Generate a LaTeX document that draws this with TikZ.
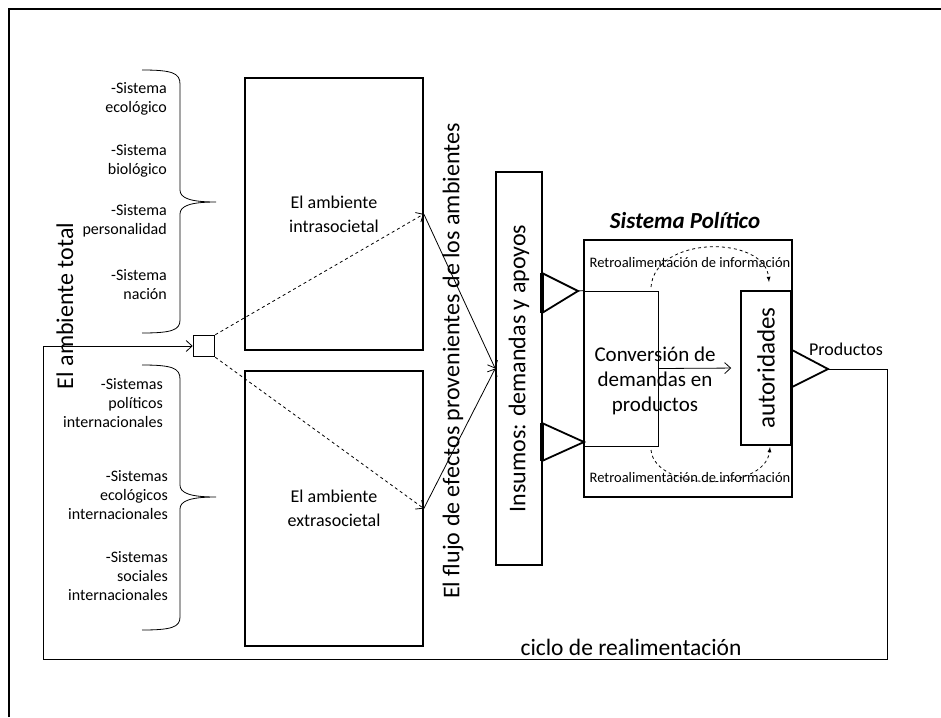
\documentclass[tikz,border=0pt]{standalone}
\usepackage{fontspec}
\setmainfont{Carlito}
\usetikzlibrary{positioning, arrows, arrows.meta, calc}

\begin{document}
\begin{tikzpicture}[x=1pt, y=-1pt,
	>={Straight Barb[length=6pt, width=11pt]},
	caja/.style={draw, line width=1.6pt, inner sep=0pt},
	fina/.style={draw, line width=0.8pt, inner sep=0pt},
	lista/.style={font=\fontsize{16}{19}\selectfont, align=right, anchor=east, inner sep=0pt},
	grande/.style={font=\fontsize{24}{25}\selectfont, align=center, inner sep=0pt},
	punta/.style={line width=1.8pt, line join=miter},
	linea/.style={line width=0.8pt}]
	\useasboundingbox (0,0) rectangle (941,717);
	\draw[line width=2pt] (9,717) -- (9,9) -- (941,9);

	\node[lista] (eco) at (167,99) {-Sistema\\ecológico};
	\node[lista] (bio) at (167,161) {-Sistema\\biológico};
	\node[lista] (per) at (167,221) {-Sistema\\personalidad};
	\node[lista] (nac) at (167,285) {-Sistema\\nación};
	\node[lista] (pol) at (163,403) {-Sistemas\\políticos\\internacionales};
	\node[lista] (ecoi) at (168,495) {-Sistemas\\ecológicos\\internacionales};
	\node[lista] (soc) at (168,576) {-Sistemas\\sociales\\internacionales};

	\draw[linea] (142,70) .. controls (172,70) and (180,73) .. (180,84) -- (180,190)
		.. controls (180,198) and (190,202) .. (216,202)
		.. controls (190,202) and (180,206) .. (180,214) -- (180,320)
		.. controls (180,330) and (172,333) .. (142,333);
	\draw[linea] (142,365) .. controls (172,365) and (180,368) .. (180,379) -- (180,485)
		.. controls (180,493) and (190,497) .. (216,497)
		.. controls (190,497) and (180,501) .. (180,509) -- (180,617)
		.. controls (180,627) and (172,630) .. (142,630);

	\node[grande, rotate=90] (total) at (65,306) {El ambiente total};
	\node[draw, line width=1.6pt, minimum size=21, inner sep=0pt] (cuadro) at (204,346) {};

	\node[caja, minimum width=178, minimum height=272, align=center,
		font=\fontsize{18}{24}\selectfont] (intra) at (334,214) {El ambiente\\intrasocietal};
	\node[caja, minimum width=178, minimum height=275, align=center,
		font=\fontsize{18}{24}\selectfont] (extra) at (334,508.5) {El ambiente\\extrasocietal};

	\node[grande, rotate=90] (flujo) at (453,361) {El flujo de efectos provenientes de los ambientes};
	\node[caja, minimum width=46, minimum height=393] (insumos) at (519,368.5) {};
	\node[grande, rotate=90] at (insumos) {Insumos: demandas y apoyos};

	\draw[linea, dashed, ->] (cuadro.north east) -- (intra.east);
	\draw[linea, dashed, ->] (cuadro.south east) -- (extra.east);
	\draw[linea, ->] (intra.east) -- (insumos.west);
	\draw[linea, ->] (extra.east) -- (insumos.west);

	\coordinate (ent1) at (578,291);
	\coordinate (ent2) at (584,442);
	\draw[punta] (542,273) -- (ent1) -- (542,313);
	\draw[line width=3.2pt] (542,273) -- (542,313);
	\draw[punta] (542,423) -- (ent2) -- (542,461);
	\draw[line width=3.2pt] (542,423) -- (542,461);

	\node[caja, minimum width=208, minimum height=257] (sispol) at (688,368.5) {};
	\node[font=\fontsize{23}{25}\selectfont\bfseries\itshape] (titulo) at (685,221) {Sistema Político};
	\node[fina, minimum width=74, minimum height=155] (conversion) at (621,368.5) {};
	\draw[linea] (ent1) -- (conversion.north west);
	\node[grande, font=\fontsize{21}{25}\selectfont] (convtxt) at (655,381) {Conversión de\\demandas en\\productos};
	\node[caja, minimum width=50, minimum height=154] (autoridades) at (766,368) {};
	\node[grande, rotate=90, font=\fontsize{25}{26}\selectfont] at (autoridades) {autoridades};
	\draw[linea, ->, shorten >=9pt] (conversion.east) -- (autoridades.west);

	\node[font=\fontsize{14.5}{16}\selectfont] (retro1) at (690,263) {Retroalimentación de información};
	\node[font=\fontsize{14.5}{16}\selectfont] (retro2) at (690,478) {Retroalimentación de información};
	\draw[linea, dashed, -latex] (651,287) .. controls (655,235) and (765,235) .. (769,282);
	\draw[linea, dashed, -latex] (651,450) .. controls (655,492) and (765,492) .. (770,447);

	\coordinate (prod) at (828,369);
	\draw[punta] (792,350) -- (prod) -- (792,387);
	\node[font=\fontsize{18}{20}\selectfont] (productos) at (846,349) {Productos};

	\draw[linea, ->] (prod) -- ++(59,0) -- ++(0,290) -- (43,659) |- (cuadro.west);
	\node[grande, font=\fontsize{23.5}{25}\selectfont] (ciclo) at (631,647) {ciclo de realimentación};
\end{tikzpicture}
\end{document}
